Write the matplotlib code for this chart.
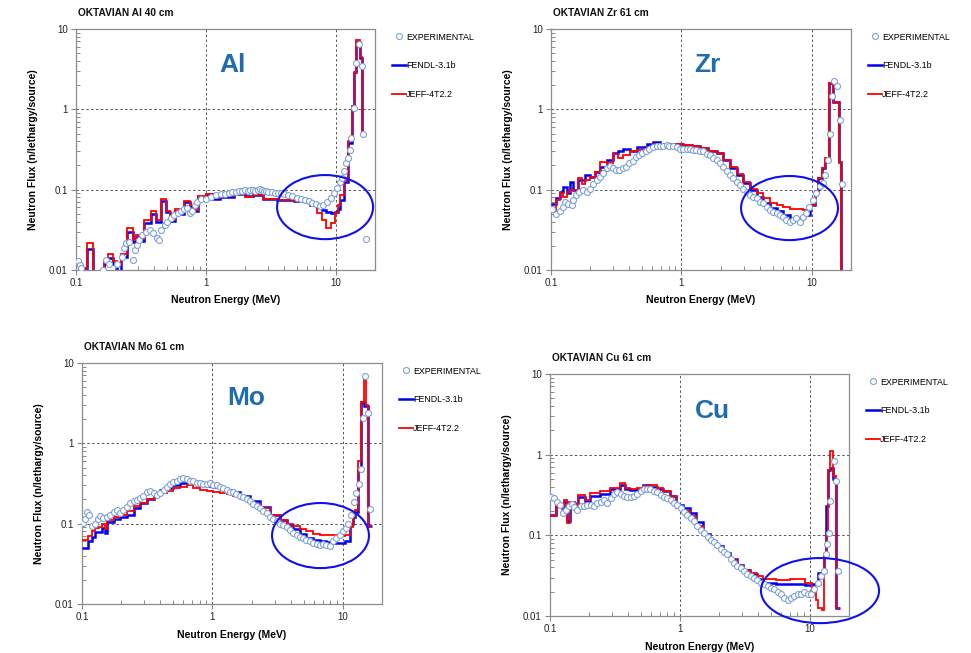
import matplotlib
matplotlib.use('Agg')
import matplotlib.pyplot as plt
from matplotlib.patches import Ellipse
from matplotlib.ticker import FuncFormatter, NullFormatter, LogLocator

plt.rcParams['font.family'] = ['Liberation Sans', 'DejaVu Sans']

# ---------------- DATA ----------------
# Al 40 cm
al_edges = [0.100, 0.107, 0.122, 0.134, 0.164, 0.177, 0.194, 0.208, 0.221, 0.246, 0.277, 0.288, 0.306, 0.334,
            0.377, 0.411, 0.449, 0.495, 0.53, 0.58, 0.63, 0.68, 0.76, 0.80, 0.87, 1.0, 1.14, 1.29, 1.63, 2.0,
            2.32, 2.77, 3.51, 4.72, 6.34, 7.14, 7.80, 8.4, 9.2, 9.8, 10.3, 10.8, 11.5, 12.4, 13.2, 13.7, 14.4,
            15.2, 15.9, 16.3]
al_jeff = [0.009, 0.0105, 0.0216, 0.006, 0.0134, 0.0158, 0.0128, 0.0117, 0.016, 0.0332, 0.0233, 0.0274, 0.024,
           0.042, 0.054, 0.042, 0.077, 0.055, 0.042, 0.057, 0.052, 0.073, 0.065, 0.056, 0.083, 0.089, 0.078,
           0.083, 0.089, 0.082, 0.087, 0.077, 0.075, 0.072, 0.065, 0.051, 0.042, 0.033, 0.038, 0.051, 0.065,
           0.086, 0.132, 0.40, 1.05, 2.8, 7.3, 4.5, 0.53]
al_fendl = [0.0095, 0.0105, 0.018, 0.006, 0.012, 0.014, 0.0118, 0.0095, 0.0145, 0.030, 0.022, 0.026, 0.023,
            0.039, 0.050, 0.040, 0.072, 0.053, 0.041, 0.054, 0.050, 0.070, 0.063, 0.055, 0.081, 0.088, 0.077,
            0.082, 0.088, 0.083, 0.087, 0.077, 0.075, 0.072, 0.065, 0.060, 0.056, 0.053, 0.051, 0.052, 0.058,
            0.075, 0.125, 0.38, 1.1, 2.9, 6.8, 4.4, 0.52]
al_exp_E = [0.104, 0.107, 0.110, 0.162, 0.169, 0.179, 0.208, 0.227, 0.234, 0.242, 0.256, 0.276, 0.285, 0.297,
            0.306, 0.324, 0.344, 0.372, 0.394, 0.419, 0.436, 0.454, 0.482, 0.505, 0.537, 0.569, 0.611, 0.641,
            0.68, 0.72, 0.756, 0.787, 0.82, 0.86, 0.912, 1.0, 1.09, 1.19, 1.30, 1.40, 1.5, 1.6, 1.7, 1.8, 1.9,
            2.0, 2.1, 2.2, 2.3, 2.4, 2.5, 2.6, 2.7, 2.8, 2.9, 3.0, 3.2, 3.4, 3.6, 3.8, 4.0, 4.3, 4.6, 5.0, 5.4,
            5.8, 6.2, 6.6, 7.0, 7.5, 8.0, 8.5, 9.1, 9.6, 10.2, 10.7, 11.1, 11.5, 12.0, 12.3, 12.9, 13.1, 13.9,
            14.4, 15.1, 15.9, 16.3, 17.1]
al_exp = [0.0128, 0.0117, 0.0105, 0.010, 0.0134, 0.0118, 0.0118, 0.0147, 0.0187, 0.0216, 0.0226, 0.0134,
          0.0178, 0.0206, 0.0238, 0.0274, 0.0301, 0.0316, 0.0288, 0.0249, 0.0238, 0.0316, 0.0365, 0.040, 0.0441,
          0.0486, 0.051, 0.0535, 0.0572, 0.0589, 0.051, 0.0535, 0.0646, 0.0711, 0.0762, 0.0776, 0.0814, 0.086,
          0.088, 0.089, 0.091, 0.093, 0.094, 0.096, 0.097, 0.098, 0.097, 0.099, 0.098, 0.097, 0.099, 0.101,
          0.099, 0.096, 0.095, 0.094, 0.093, 0.092, 0.091, 0.091, 0.089, 0.087, 0.083, 0.078, 0.076, 0.074,
          0.072, 0.069, 0.066, 0.063, 0.064, 0.071, 0.078, 0.090, 0.104, 0.126, 0.139, 0.171, 0.213, 0.246,
          0.313, 0.436, 1.03, 3.74, 6.45, 3.5, 0.49, 0.0242]

# Zr 61 cm
zr_edges = [0.100, 0.110, 0.117, 0.124, 0.132, 0.140, 0.148, 0.162, 0.172, 0.182, 0.199, 0.217, 0.237, 0.267,
            0.300, 0.328, 0.358, 0.403, 0.453, 0.541, 0.608, 0.684, 0.770, 0.919, 1.03, 1.2, 1.4, 1.6, 1.86,
            2.09, 2.36, 2.65, 2.98, 3.35, 3.78, 4.25, 4.78, 5.38, 6.05, 6.8, 7.66, 8.6, 9.7, 10.5, 11.2, 11.9,
            12.6, 13.6, 14.5, 16.2, 16.9, 17.0]
zr_jeff = [0.056, 0.075, 0.091, 0.082, 0.094, 0.098, 0.098, 0.138, 0.117, 0.132, 0.145, 0.168, 0.222, 0.214,
           0.277, 0.246, 0.27, 0.30, 0.31, 0.34, 0.37, 0.37, 0.375, 0.375, 0.36, 0.35, 0.33, 0.30, 0.283, 0.234,
           0.19, 0.155, 0.125, 0.103, 0.091, 0.078, 0.069, 0.064, 0.06, 0.058, 0.057, 0.056, 0.064, 0.086,
           0.138, 0.185, 0.245, 2.1, 1.24, 0.22, 0.001]
zr_fendl = [0.066, 0.078, 0.094, 0.109, 0.091, 0.126, 0.099, 0.132, 0.132, 0.152, 0.145, 0.168, 0.193, 0.234,
            0.283, 0.30, 0.325, 0.30, 0.34, 0.37, 0.395, 0.37, 0.37, 0.375, 0.36, 0.35, 0.33, 0.30, 0.283,
            0.234, 0.184, 0.152, 0.122, 0.099, 0.082, 0.068, 0.059, 0.054, 0.0485, 0.044, 0.044, 0.0485,
            0.064, 0.091, 0.138, 0.184, 0.234, 2.1, 1.22, 0.22, 0.001]
zr_exp_E = [0.101, 0.110, 0.117, 0.123, 0.128, 0.136, 0.144, 0.148, 0.156, 0.165, 0.177, 0.19, 0.199, 0.211,
            0.224, 0.237, 0.252, 0.267, 0.283, 0.297, 0.315, 0.334, 0.354, 0.376, 0.398, 0.423, 0.448, 0.475,
            0.503, 0.534, 0.566, 0.607, 0.645, 0.685, 0.72, 0.77, 0.81, 0.87, 0.92, 0.97, 1.03, 1.10, 1.16,
            1.23, 1.30, 1.39, 1.47, 1.56, 1.65, 1.75, 1.86, 1.98, 2.10, 2.22, 2.36, 2.50, 2.65, 2.81, 2.98,
            3.16, 3.35, 3.56, 3.78, 4.0, 4.25, 4.5, 4.78, 5.07, 5.38, 5.7, 6.05, 6.4, 6.8, 7.2, 7.6, 8.1, 8.6,
            9.1, 9.6, 10.2, 10.8, 11.5, 12.2, 12.6, 13.3, 13.9, 14.2, 14.8, 15.7, 16.4, 17.0]
zr_exp = [0.057, 0.050, 0.055, 0.061, 0.071, 0.066, 0.064, 0.075, 0.086, 0.094, 0.098, 0.094, 0.103, 0.118,
          0.132, 0.145, 0.160, 0.184, 0.197, 0.184, 0.176, 0.176, 0.184, 0.193, 0.214, 0.23, 0.258, 0.27, 0.29,
          0.30, 0.325, 0.34, 0.35, 0.35, 0.35, 0.36, 0.35, 0.35, 0.34, 0.325, 0.32, 0.325, 0.32, 0.31, 0.31,
          0.30, 0.30, 0.28, 0.27, 0.25, 0.234, 0.214, 0.193, 0.172, 0.152, 0.139, 0.125, 0.113, 0.103, 0.094,
          0.086, 0.082, 0.078, 0.071, 0.068, 0.061, 0.056, 0.053, 0.051, 0.0485, 0.046, 0.042, 0.040, 0.042,
          0.044, 0.040, 0.046, 0.051, 0.061, 0.075, 0.091, 0.11, 0.12, 0.152, 0.234, 0.50, 1.47, 2.25, 1.97,
          0.74, 0.117]

# Mo 61 cm
mo_edges = [0.100, 0.112, 0.119, 0.126, 0.134, 0.142, 0.151, 0.155, 0.175, 0.197, 0.221, 0.249, 0.279, 0.314,
            0.354, 0.398, 0.447, 0.503, 0.566, 0.635, 0.715, 0.804, 0.904, 1.02, 1.14, 1.29, 1.45, 1.63, 1.94,
            2.32, 2.76, 3.30, 3.71, 4.17, 4.69, 5.27, 5.93, 6.67, 7.5, 8.43, 9.48, 10.4, 11.3, 12.0, 12.4, 13.1,
            13.9, 14.6, 15.2, 15.6, 16.7]
mo_jeff = [0.062, 0.071, 0.080, 0.088, 0.092, 0.100, 0.086, 0.112, 0.12, 0.13, 0.142, 0.164, 0.18, 0.20, 0.22,
           0.24, 0.255, 0.276, 0.29, 0.30, 0.28, 0.265, 0.255, 0.25, 0.24, 0.232, 0.22, 0.20, 0.178, 0.155,
           0.128, 0.112, 0.10, 0.093, 0.085, 0.08, 0.075, 0.073, 0.073, 0.072, 0.070, 0.072, 0.092, 0.123,
           0.148, 0.6, 3.3, 6.8, 3.0, 0.093]
mo_fendl = [0.050, 0.060, 0.069, 0.078, 0.078, 0.088, 0.076, 0.106, 0.113, 0.12, 0.13, 0.155, 0.18, 0.205,
            0.235, 0.26, 0.28, 0.30, 0.325, 0.335, 0.32, 0.305, 0.295, 0.29, 0.28, 0.265, 0.25, 0.22, 0.19, 0.16,
            0.13, 0.11, 0.095, 0.085, 0.074, 0.067, 0.063, 0.061, 0.059, 0.057, 0.057, 0.060, 0.10, 0.12, 0.14,
            0.47, 3.3, 2.9, 2.9, 0.093]
mo_exp_E = [0.102, 0.106, 0.110, 0.114, 0.119, 0.126, 0.132, 0.138, 0.146, 0.155, 0.165, 0.175, 0.185, 0.197,
            0.208, 0.221, 0.234, 0.249, 0.263, 0.279, 0.296, 0.314, 0.333, 0.354, 0.375, 0.398, 0.422, 0.447,
            0.474, 0.503, 0.533, 0.566, 0.6, 0.635, 0.674, 0.715, 0.758, 0.804, 0.852, 0.904, 0.958, 1.02, 1.08,
            1.14, 1.21, 1.29, 1.36, 1.45, 1.53, 1.63, 1.73, 1.83, 1.94, 2.06, 2.18, 2.32, 2.46, 2.61, 2.76,
            2.93, 3.11, 3.30, 3.5, 3.71, 3.93, 4.17, 4.42, 4.69, 4.97, 5.27, 5.59, 5.93, 6.29, 6.67, 7.07, 7.5,
            7.95, 8.43, 8.94, 9.48, 10.1, 10.5, 11.0, 11.6, 12.2, 12.7, 13.3, 13.7, 14.3, 14.9, 15.6, 16.3]
mo_exp = [0.103, 0.114, 0.14, 0.127, 0.093, 0.1, 0.114, 0.125, 0.116, 0.122, 0.127, 0.14, 0.148, 0.137, 0.148,
          0.163, 0.18, 0.19, 0.198, 0.21, 0.224, 0.245, 0.252, 0.24, 0.23, 0.24, 0.264, 0.29, 0.31, 0.33, 0.34,
          0.36, 0.37, 0.36, 0.34, 0.335, 0.325, 0.32, 0.31, 0.31, 0.32, 0.305, 0.30, 0.29, 0.28, 0.265, 0.25,
          0.245, 0.235, 0.224, 0.215, 0.2, 0.19, 0.177, 0.167, 0.155, 0.145, 0.135, 0.122, 0.114, 0.107, 0.1,
          0.097, 0.090, 0.084, 0.076, 0.073, 0.069, 0.066, 0.063, 0.06, 0.057, 0.056, 0.055, 0.056, 0.054,
          0.052, 0.06, 0.066, 0.073, 0.08, 0.088, 0.10, 0.128, 0.188, 0.24, 0.31, 0.477, 2.06, 6.95, 2.42, 0.152]

# Cu 61 cm
cu_edges = [0.100, 0.112, 0.123, 0.128, 0.136, 0.143, 0.156, 0.165, 0.186, 0.203, 0.242, 0.289, 0.345, 0.378,
            0.413, 0.464, 0.522, 0.588, 0.661, 0.744, 0.837, 0.94, 1.06, 1.19, 1.34, 1.51, 1.70, 1.91, 2.15,
            2.42, 2.73, 3.07, 3.45, 3.89, 4.37, 5.5, 7.0, 9.16, 10.3, 11.1, 11.6, 12.3, 12.8, 13.3, 13.8, 14.4,
            15.1, 15.8, 17.0]
cu_jeff = [0.172, 0.24, 0.22, 0.277, 0.142, 0.26, 0.24, 0.32, 0.277, 0.335, 0.35, 0.385, 0.45, 0.385, 0.37,
           0.385, 0.41, 0.42, 0.385, 0.35, 0.304, 0.22, 0.2, 0.172, 0.13, 0.10, 0.084, 0.072, 0.058, 0.05,
           0.042, 0.0375, 0.034, 0.031, 0.029, 0.028, 0.029, 0.0257, 0.0212, 0.0159, 0.0126, 0.0118, 0.055,
           0.097, 0.65, 1.1, 0.54, 0.0126]
cu_fendl = [0.18, 0.23, 0.22, 0.26, 0.15, 0.25, 0.24, 0.30, 0.27, 0.31, 0.33, 0.37, 0.42, 0.38, 0.36, 0.38,
            0.42, 0.40, 0.38, 0.35, 0.31, 0.24, 0.22, 0.19, 0.145, 0.105, 0.086, 0.073, 0.06, 0.051, 0.043,
            0.037, 0.033, 0.029, 0.026, 0.0246, 0.0246, 0.024, 0.025, 0.026, 0.034, 0.034, 0.055, 0.23, 0.65,
            0.68, 0.5, 0.0126]
cu_exp_E = [0.101, 0.107, 0.114, 0.119, 0.125, 0.133, 0.141, 0.147, 0.153, 0.162, 0.172, 0.183, 0.194, 0.205,
            0.218, 0.231, 0.245, 0.26, 0.276, 0.293, 0.31, 0.33, 0.35, 0.37, 0.39, 0.417, 0.44, 0.47, 0.5, 0.53,
            0.56, 0.59, 0.63, 0.67, 0.71, 0.75, 0.80, 0.85, 0.90, 0.95, 1.01, 1.07, 1.14, 1.21, 1.29, 1.36,
            1.45, 1.53, 1.63, 1.73, 1.83, 1.94, 2.06, 2.18, 2.32, 2.46, 2.61, 2.77, 2.94, 3.12, 3.31, 3.51,
            3.72, 3.95, 4.19, 4.45, 4.72, 5.01, 5.31, 5.64, 5.98, 6.35, 6.73, 7.14, 7.58, 8.04, 8.53, 9.05,
            9.6, 10.2, 10.8, 11.5, 12.2, 12.9, 13.3, 13.6, 14.0, 14.4, 15.2, 15.9, 16.5]
cu_exp = [0.296, 0.29, 0.26, 0.24, 0.19, 0.205, 0.23, 0.245, 0.225, 0.205, 0.23, 0.23, 0.24, 0.24, 0.23, 0.25,
          0.26, 0.275, 0.255, 0.29, 0.33, 0.34, 0.33, 0.31, 0.296, 0.296, 0.31, 0.33, 0.35, 0.37, 0.38, 0.37,
          0.35, 0.34, 0.32, 0.30, 0.29, 0.275, 0.255, 0.24, 0.22, 0.197, 0.18, 0.164, 0.15, 0.13, 0.117, 0.107,
          0.095, 0.088, 0.082, 0.075, 0.068, 0.062, 0.058, 0.051, 0.046, 0.042, 0.039, 0.036, 0.033, 0.031,
          0.030, 0.028, 0.026, 0.0246, 0.0235, 0.0225, 0.0215, 0.0198, 0.0185, 0.0168, 0.016, 0.0168, 0.0175,
          0.0185, 0.019, 0.0198, 0.0185, 0.019, 0.0215, 0.026, 0.031, 0.036, 0.058, 0.077, 0.107, 0.27, 0.83,
          0.47, 0.0357]

titles = ['OKTAVIAN Al 40 cm', 'OKTAVIAN Zr 61 cm', 'OKTAVIAN Mo 61 cm', 'OKTAVIAN Cu 61 cm']
elements = ['Al', 'Zr', 'Mo', 'Cu']
series_names = ['EXPERIMENTAL', 'FENDL-3.1b', 'JEFF-4T2.2']
x_ticks = [0.1, 1, 10]
y_ticks = [0.01, 0.1, 1, 10]

# ---------------- LAYOUT ----------------
W, H = 971, 653
panels = [
    dict(edges=al_edges, fendl=al_fendl, jeff=al_jeff, eE=al_exp_E, ev=al_exp,
         box=(76, 29, 299, 241), ell=(0.833, 0.261, 0.321, 0.266), lab=(0.525, 0.851)),
    dict(edges=zr_edges, fendl=zr_fendl, jeff=zr_jeff, eE=zr_exp_E, ev=zr_exp,
         box=(551, 29, 300, 241), ell=(0.795, 0.257, 0.323, 0.266), lab=(0.523, 0.851)),
    dict(edges=mo_edges, fendl=mo_fendl, jeff=mo_jeff, eE=mo_exp_E, ev=mo_exp,
         box=(82, 363, 300, 241), ell=(0.795, 0.284, 0.323, 0.27), lab=(0.547, 0.855)),
    dict(edges=cu_edges, fendl=cu_fendl, jeff=cu_jeff, eE=cu_exp_E, ev=cu_exp,
         box=(550, 374, 299, 242), ell=(0.903, 0.105, 0.395, 0.269), lab=(0.542, 0.849)),
]

fig = plt.figure(figsize=(W / 100, H / 100), dpi=100)
fig.patch.set_facecolor('white')
fmt = FuncFormatter(lambda v, p: '%g' % v)

for i, p in enumerate(panels):
    l, t, w, h = p['box']
    ax = fig.add_axes([l / W, (H - t - h) / H, w / W, h / H])
    ax.set_xscale('log')
    ax.set_yscale('log')
    ax.set_xlim(0.1, 20)
    ax.set_ylim(0.01, 10)
    ax.set_axisbelow(True)

    sf = ax.stairs(p['fendl'], p['edges'], baseline=None, color='#0000ee', lw=1.8, zorder=3)
    sj = ax.stairs(p['jeff'], p['edges'], baseline=None, color='#ff0000', lw=1.3, zorder=4)
    le, = ax.plot(p['eE'], p['ev'], 'o', ms=4.3, mfc='white', mec='#7fa2d6', mew=0.8, zorder=5)

    ax.add_patch(Ellipse(p['ell'][:2], p['ell'][2], p['ell'][3], transform=ax.transAxes,
                         fill=False, ec='#1010ee', lw=1.5, clip_on=False, zorder=6))

    ax.text(p['lab'][0], p['lab'][1], elements[i], transform=ax.transAxes, ha='center', va='center',
            fontsize=19, fontweight='bold', color='#1f6cb0')
    ax.text(0.007, 1 + 16 / h, titles[i], transform=ax.transAxes, ha='left', va='center',
            fontsize=7.3, fontweight='bold', color='#111111')

    ax.grid(True, which='major', color='#555555', lw=0.7, ls=(0, (2.5, 2.5)))
    ax.set_xticks(x_ticks)
    ax.set_yticks(y_ticks)
    ax.xaxis.set_major_formatter(fmt)
    ax.yaxis.set_major_formatter(fmt)
    ax.xaxis.set_minor_locator(LogLocator(base=10, subs=range(2, 10)))
    ax.yaxis.set_minor_locator(LogLocator(base=10, subs=range(2, 10)))
    ax.xaxis.set_minor_formatter(NullFormatter())
    ax.yaxis.set_minor_formatter(NullFormatter())
    ax.tick_params(which='major', direction='out', length=3.5, width=0.8, color='#888888',
                   labelsize=7, labelcolor='#222222', pad=2.5)
    ax.tick_params(which='minor', direction='in', length=3, width=0.7, color='#888888')
    for s in ax.spines.values():
        s.set_color('#8c8c8c')
        s.set_linewidth(0.9)

    ax.set_xlabel('Neutron Energy (MeV)', fontsize=7.5, fontweight='bold')
    ax.xaxis.set_label_coords(0.5, -30.5 / h)
    ax.xaxis.label.set_va('center')
    ax.set_ylabel('Neutron Flux (n/lethargy/source)', fontsize=7.5, fontweight='bold')
    ax.yaxis.set_label_coords(-43 / w, 0.5)
    ax.yaxis.label.set_va('center')

    ax.legend([le, sf, sj], series_names, loc='upper left', bbox_to_anchor=(1.045, 1.0),
              borderaxespad=0, frameon=False, fontsize=6.4, numpoints=1,
              handlelength=1.6, handletextpad=0.0, labelspacing=2.2)

fig.savefig('out.png', dpi=100, facecolor='white')
